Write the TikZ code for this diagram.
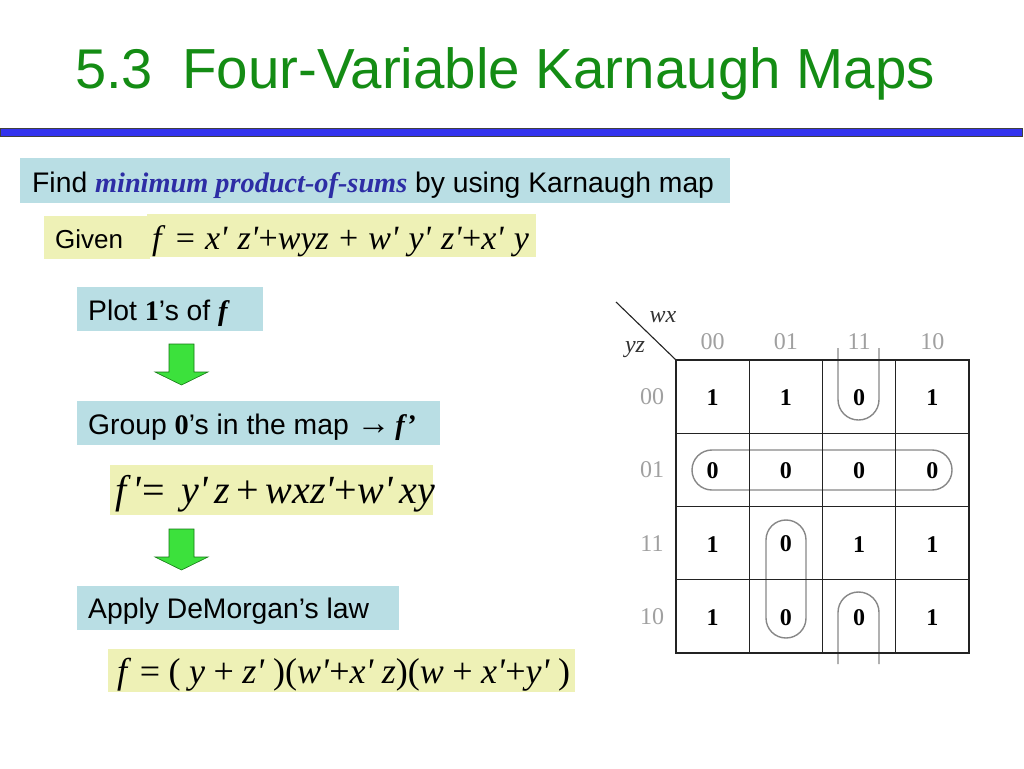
\documentclass[tikz,border=0pt]{standalone}
\usepackage{fontspec}
\setmainfont{Liberation Sans}
\newfontfamily\tnr{Liberation Serif}
\newfontfamily\tnrm[Ligatures=TeXOff]{Liberation Serif}
\newcommand\gapa{\hspace{10.2pt}}
\newcommand\gapb{\hspace{8.5pt}}
\definecolor{titlegreen}{RGB}{20,140,20}
\definecolor{barblue}{RGB}{51,51,238}
\definecolor{boxblue}{RGB}{185,222,228}
\definecolor{boxyellow}{RGB}{238,241,182}
\definecolor{itblue}{RGB}{45,45,165}
\definecolor{arrgreen}{RGB}{60,225,60}
\definecolor{arredge}{RGB}{20,120,20}
\definecolor{loopgray}{RGB}{135,135,135}
\definecolor{lblgray}{RGB}{160,160,160}
\definecolor{gridcol}{RGB}{35,35,35}
\begin{document}
\begin{tikzpicture}[x=1pt,y=-1pt,
  panel/.style={fill=boxblue,draw=none,inner sep=0,anchor=north west},
  ypanel/.style={fill=boxyellow,draw=none,inner sep=0,anchor=north west},
  txt/.style={anchor=base west,inner sep=0,font=\fontsize{28.3}{32}\selectfont},
  eq/.style={anchor=base west,inner sep=0},
  cellnum/.style={inner sep=0,font=\tnr\bfseries\fontsize{24}{26}\selectfont},
  kl/.style={inner sep=0,text=lblgray,font=\tnr\fontsize{24}{26}\selectfont},
  kv/.style={inner sep=0,text=black!80,font=\tnr\itshape\fontsize{24}{26}\selectfont},
  kloop/.style={draw=loopgray,line width=1.4},
  blockarrow/.style={fill=arrgreen,draw=arredge,line width=0.6}]
\useasboundingbox (0,0) rectangle (1024,768);

% title
\node[anchor=base west,inner sep=0,text=titlegreen,font=\fontsize{56}{60}\selectfont] (num) at (75,88) {5.3};
\node[anchor=base west,inner sep=0,text=titlegreen,font=\fontsize{56.5}{60}\selectfont] (title) at (182,88) {Four-Variable Karnaugh Maps};
\node[fill=barblue,draw=black!75,line width=1,minimum width=1022,minimum height=8,anchor=north west,inner sep=0] (bar) at (0,128) {};

% find box
\node[panel,minimum width=710,minimum height=45] (findbox) at (20,158) {};
\node[txt] (findtxt) at (32,192) {Find {\tnr\bfseries\itshape\color{itblue}minimum product-of-sums} by using Karnaugh map};

% given
\node[ypanel,minimum width=106,minimum height=43] (givenbox) at (44,216) {};
\node[ypanel,minimum width=389,minimum height=43] (f1box) at (147,214) {};
\node[txt,font=\fontsize{26}{30}\selectfont] (giventxt) at (55,248) {Given};
\node[eq,font=\tnrm\itshape\fontsize{34}{36}\selectfont] (f1) at (152,249)
  {f\gapa\textup{=}\gapa x'\gapa z'\textup{+}wyz\gapa\textup{+}\gapa w'\gapa y'\gapa z'\textup{+}x'\gapa y};

% plot
\node[panel,minimum width=186,minimum height=44] (plotbox) at (77,287) {};
\node[txt] (plottxt) at (88,320) {Plot {\tnr\bfseries 1}’s of {\tnr\bfseries\itshape f}};

% arrow 1
\draw[blockarrow] (169,344) -- (194,344) -- (194,372) -- (208,372) -- (181.5,385) -- (155,372) -- (169,372) -- cycle;

% group
\node[panel,minimum width=363,minimum height=44] (groupbox) at (77,401) {};
\node[txt] (grouptxt) at (88,434) {Group {\tnr\bfseries 0}’s in the map {\tnr\fontsize{34}{34}\selectfont →}\,{\tnr\bfseries\itshape f’}};

% f' box
\node[ypanel,minimum width=323,minimum height=50] (f2box) at (110,465) {};
\node[eq,font=\tnrm\itshape\fontsize{40}{44}\selectfont] (f2) at (115,503)
  {f\,'\textup{=}\, y'\,z\textup{\,+\,}wxz'\textup{+}w'\,xy};

% arrow 2
\draw[blockarrow] (169,529) -- (194,529) -- (194,557) -- (208,557) -- (181.5,570) -- (155,557) -- (169,557) -- cycle;

% apply
\node[panel,minimum width=322,minimum height=44] (applybox) at (77,586) {};
\node[txt] (applytxt) at (88,618) {Apply DeMorgan’s law};

% f box
\node[ypanel,minimum width=467,minimum height=43] (f3box) at (108,649) {};
\node[eq,font=\tnrm\itshape\fontsize{36}{38}\selectfont] (f3) at (117,683)
  {f\gapb\textup{=}\gapb\textup{(}\gapb y\gapb\textup{+}\gapb z'\gapb\textup{)(}w'\textup{+}x'\gapb z\textup{)(}w\gapb\textup{+}\gapb x'\textup{+}y'\gapb\textup{)}};

% K-map
\coordinate (diagA) at (616,302);
\coordinate (diagB) at (676,360);
\draw[gridcol,line width=1.1] (diagA) -- (diagB);
\node[kv] (wx) at (663,317) {wx};
\node[kv] (yz) at (635,350) {yz};
\foreach \i/\l in {0/00,1/01,2/11,3/10}{
  \node[kl] (col\i) at ({676+73.25*(\i+0.5)},342) {\l};
  \node[kl] (row\i) at (652,{360+73.25*(\i+0.5)}) {\l};
}
% loops
\draw[kloop,rounded corners=19.9] (692,450) rectangle (952,490);
\draw[kloop,rounded corners=19.9] (766,520) rectangle (806,638);
\draw[kloop,rounded corners=20.4] (838,348) -- (838,420) -- (879,420) -- (879,348);
\draw[kloop,rounded corners=20.4] (838,664) -- (838,592) -- (879,592) -- (879,664);
% grid
\foreach \k in {1,2,3}{
  \draw[gridcol,line width=1.2] ({676+73.25*\k},360) -- ({676+73.25*\k},653);
  \draw[gridcol,line width=1.2] (676,{360+73.25*\k}) -- (969,{360+73.25*\k});
}
\draw[gridcol,line width=2] (676,360) rectangle (969,653);
\foreach \r/\vals in {0/{1,1,0,1},1/{0,0,0,0},2/{1,0,1,1},3/{1,0,0,1}}{
  \foreach \v [count=\c from 0] in \vals{
    \node[cellnum] (m\r\c) at ({676+73.25*(\c+0.5)},{360+73.25*(\r+0.5)+1}) {\v};
  }
}
\end{tikzpicture}
\end{document}
